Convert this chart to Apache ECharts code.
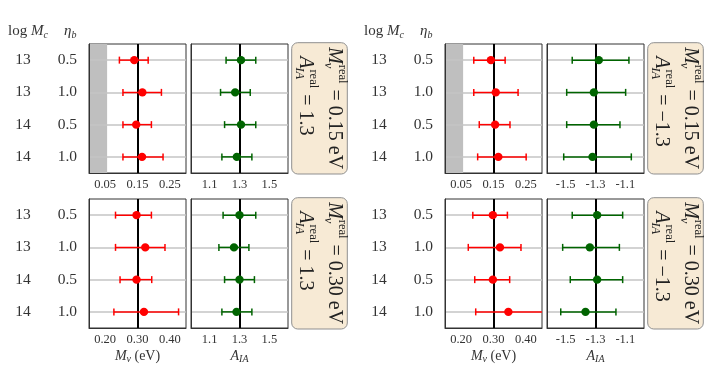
<!DOCTYPE html>
<html><head><meta charset="utf-8">
<script src="https://cdn.jsdelivr.net/npm/echarts@6/dist/echarts.min.js"></script>
<style>html,body{margin:0;padding:0;background:#fff}#c{width:716px;height:369px}</style>
</head><body><div id="c"></div>
<script>
// ---------- data ----------
const rowLogMc = ['13', '13', '14', '14'];
const rowEtab = ['0.5', '1.0', '0.5', '1.0'];
const rowIdx = [0, 1, 2, 3];

// top-left block: M_nu^real = 0.15, A_IA^real = 1.3
const mnuTL_mean = [0.140, 0.165, 0.146, 0.164];
const mnuTL_lo   = [0.094, 0.105, 0.105, 0.105];
const mnuTL_hi   = [0.183, 0.224, 0.193, 0.229];
const aiaTL_mean = [1.310, 1.271, 1.310, 1.282];
const aiaTL_lo   = [1.210, 1.173, 1.200, 1.182];
const aiaTL_hi   = [1.409, 1.372, 1.409, 1.383];

// bottom-left block: M_nu^real = 0.30, A_IA^real = 1.3
const mnuBL_mean = [0.297, 0.324, 0.297, 0.320];
const mnuBL_lo   = [0.232, 0.232, 0.246, 0.227];
const mnuBL_hi   = [0.343, 0.385, 0.344, 0.427];
const aiaBL_mean = [1.300, 1.263, 1.300, 1.280];
const aiaBL_lo   = [1.190, 1.162, 1.200, 1.182];
const aiaBL_hi   = [1.409, 1.363, 1.400, 1.383];

// top-right block: M_nu^real = 0.15, A_IA^real = -1.3
const mnuTR_mean = [0.142, 0.157, 0.155, 0.165];
const mnuTR_lo   = [0.089, 0.089, 0.106, 0.101];
const mnuTR_hi   = [0.186, 0.226, 0.201, 0.251];
const aiaTR_mean = [-1.278, -1.311, -1.311, -1.320];
const aiaTR_lo   = [-1.456, -1.493, -1.493, -1.513];
const aiaTR_hi   = [-1.076, -1.098, -1.136, -1.060];

// bottom-right block: M_nu^real = 0.30, A_IA^real = -1.3
const mnuBR_mean = [0.298, 0.320, 0.298, 0.346];
const mnuBR_lo   = [0.236, 0.222, 0.242, 0.245];
const mnuBR_hi   = [0.343, 0.385, 0.350, 0.460];
const aiaBR_mean = [-1.289, -1.338, -1.289, -1.367];
const aiaBR_lo   = [-1.456, -1.520, -1.469, -1.533];
const aiaBR_hi   = [-1.118, -1.140, -1.118, -1.163];

// axes
const massRangeLow = [0, 0.3];
const massRangeHigh = [0.15, 0.45];
const aiaRangePos = [0.975, 1.625];
const aiaRangeNeg = [-1.625, -0.975];
const massTicksLow = [0.05, 0.15, 0.25];
const massLabelsLow = ['0.05', '0.15', '0.25'];
const massTicksHigh = [0.2, 0.3, 0.4];
const massLabelsHigh = ['0.20', '0.30', '0.40'];
const aiaTicksPos = [1.1, 1.3, 1.5];
const aiaLabelsPos = ['1.1', '1.3', '1.5'];
const aiaTicksNeg = [-1.5, -1.3, -1.1];
const aiaLabelsNeg = ['-1.5', '-1.3', '-1.1'];
const priorShade = [0, 0.056];

const truthMnu = [0.15, 0.30];
const truthAia = [1.3, -1.3];
const boxMnuText = ['0.15', '0.30'];
const boxAiaText = ['1.3', '\u22121.3'];

// ---------- layout ----------
const FONT = "'Liberation Serif', 'DejaVu Serif', serif";
const TXT = '#333';
const RED = '#ff0000', GREEN = '#006400';
const colX = [[89, 191], [445, 547]];
const rowY = [44, 199];
const PW = 97, PH = 129;

const panels = [];
function addBlock(bx, by, mMean, mLo, mHi, aMean, aLo, aHi, mRange, mTicks, mLabels, aRange, aTicks, aLabels, tM, tA, shade, bottom) {
  panels.push({left: colX[bx][0], top: rowY[by], range: mRange, ticks: mTicks, labels: mLabels,
    mean: mMean, lo: mLo, hi: mHi, color: RED, truth: tM, shade: shade, rowLabels: true,
    name: bottom ? '{i|M}{s|\u03bd}{n| (eV)}' : null});
  panels.push({left: colX[bx][1], top: rowY[by], range: aRange, ticks: aTicks, labels: aLabels,
    mean: aMean, lo: aLo, hi: aHi, color: GREEN, truth: tA, shade: false, rowLabels: false,
    name: bottom ? '{i|A}{s|IA}' : null});
}
addBlock(0, 0, mnuTL_mean, mnuTL_lo, mnuTL_hi, aiaTL_mean, aiaTL_lo, aiaTL_hi, massRangeLow, massTicksLow, massLabelsLow, aiaRangePos, aiaTicksPos, aiaLabelsPos, truthMnu[0], truthAia[0], true, false);
addBlock(0, 1, mnuBL_mean, mnuBL_lo, mnuBL_hi, aiaBL_mean, aiaBL_lo, aiaBL_hi, massRangeHigh, massTicksHigh, massLabelsHigh, aiaRangePos, aiaTicksPos, aiaLabelsPos, truthMnu[1], truthAia[0], false, true);
addBlock(1, 0, mnuTR_mean, mnuTR_lo, mnuTR_hi, aiaTR_mean, aiaTR_lo, aiaTR_hi, massRangeLow, massTicksLow, massLabelsLow, aiaRangeNeg, aiaTicksNeg, aiaLabelsNeg, truthMnu[0], truthAia[1], true, false);
addBlock(1, 1, mnuBR_mean, mnuBR_lo, mnuBR_hi, aiaBR_mean, aiaBR_lo, aiaBR_hi, massRangeHigh, massTicksHigh, massLabelsHigh, aiaRangeNeg, aiaTicksNeg, aiaLabelsNeg, truthMnu[1], truthAia[1], false, true);

function makeErr(color) {
  return function (params, api) {
    const y = api.value(1);
    const pM = api.coord([api.value(0), y]);
    const pL = api.coord([api.value(2), y]);
    const pH = api.coord([api.value(3), y]);
    const cap = 3.5, lw = 1.5;
    return {type: 'group', children: [
      {type: 'line', shape: {x1: pL[0], y1: pL[1], x2: pH[0], y2: pH[1]}, style: {stroke: color, lineWidth: lw}},
      {type: 'line', shape: {x1: pL[0], y1: pL[1] - cap, x2: pL[0], y2: pL[1] + cap}, style: {stroke: color, lineWidth: lw}},
      {type: 'line', shape: {x1: pH[0], y1: pH[1] - cap, x2: pH[0], y2: pH[1] + cap}, style: {stroke: color, lineWidth: lw}},
      {type: 'circle', shape: {cx: pM[0], cy: pM[1], r: 4.2}, style: {fill: color}}
    ]};
  };
}

const grids = [], xAxes = [], yAxes = [], series = [];
panels.forEach((p, i) => {
  grids.push({left: p.left, top: p.top, width: PW, height: PH, show: true, borderColor: TXT, borderWidth: 1, backgroundColor: 'transparent'});
  xAxes.push({
    gridIndex: i, type: 'value', min: p.range[0], max: p.range[1], z: 10,
    axisLine: {show: true, onZero: false, lineStyle: {color: TXT, width: 1}},
    axisTick: {show: false}, splitLine: {show: false},
    axisLabel: {customValues: p.ticks, fontFamily: FONT, fontSize: 12.5, color: TXT, margin: 5,
      formatter: v => { const k = p.ticks.findIndex(t => Math.abs(t - v) < 1e-9); return k >= 0 ? p.labels[k] : ''; }},
    name: p.name || '', nameLocation: 'middle', nameGap: 20,
    nameTextStyle: {fontFamily: FONT, fontSize: 14, color: TXT,
      rich: {i: {fontFamily: FONT, fontStyle: 'italic', fontSize: 14, color: TXT, lineHeight: 16},
             s: {fontFamily: FONT, fontStyle: 'italic', fontSize: 10, color: TXT, verticalAlign: 'bottom', lineHeight: 9},
             n: {fontFamily: FONT, fontSize: 14, color: TXT, lineHeight: 16}}}
  });
  yAxes.push({
    gridIndex: i, type: 'value', min: -0.5, max: 3.5, inverse: true, z: 10,
    axisLine: {show: true, lineStyle: {color: TXT, width: 1}},
    axisTick: {show: false}, splitLine: {show: false},
    axisLabel: p.rowLabels ? {
      customValues: rowIdx, margin: 12,
      formatter: v => '{a|' + rowLogMc[Math.round(v)] + '}{b|' + rowEtab[Math.round(v)] + '}',
      rich: {a: {fontFamily: FONT, fontSize: 15.5, color: TXT, width: 68, align: 'center'},
             b: {fontFamily: FONT, fontSize: 15.5, color: TXT, width: 20, align: 'right'}}
    } : {show: false}
  });
  series.push({
    type: 'custom', xAxisIndex: i, yAxisIndex: i, z: 1, silent: true, data: [],
    renderItem: () => ({type: 'group', children: []}),
    markArea: p.shade ? {silent: true, itemStyle: {color: '#bfbfbf'}, data: [[{xAxis: priorShade[0]}, {xAxis: priorShade[1]}]]} : undefined,
    markLine: {silent: true, symbol: ['none', 'none'], label: {show: false}, animation: false,
      data: rowIdx.map(r => ({yAxis: r, lineStyle: {color: '#c4c4c4', width: 1.5, type: 'solid'}}))
        .concat([{xAxis: p.truth, lineStyle: {color: '#000', width: 2, type: 'solid'}}])}
  });
  series.push({
    type: 'custom', xAxisIndex: i, yAxisIndex: i, z: 5, clip: true, silent: true,
    renderItem: makeErr(p.color),
    encode: {x: [0, 2, 3], y: 1},
    data: rowIdx.map(r => [p.mean[r], r, p.lo[r], p.hi[r]])
  });
});

// ---------- text graphics ----------
const ctx = document.createElement('canvas').getContext('2d');
function tw(t, font) { ctx.font = font; return ctx.measureText(t).width; }
const BIG = 20, SM = 12.5;
const fBigI = 'italic ' + BIG + 'px ' + FONT, fSm = SM + 'px ' + FONT, fSmI = 'italic ' + SM + 'px ' + FONT;

function txt(x, y, text, size, italic, align) {
  return {type: 'text', x: x, y: y, style: {text: text, fontFamily: FONT, fontSize: size, fontStyle: italic ? 'italic' : 'normal', fill: '#222', align: align || 'left', verticalAlign: 'middle'}};
}
function mathLine(x, y, base, sub, rest) {
  const wB = tw(base, fBigI);
  const wSup = tw('real', fSm), wSub = tw(sub, fSmI);
  return {type: 'group', x: x, y: y, rotation: -Math.PI / 2, children: [
    txt(0, 0, base, BIG, true),
    txt(wB + 1, -7.5, 'real', SM, false),
    txt(wB - 1, 6.5, sub, SM, true),
    txt(wB + Math.max(wSup, wSub) + 2, 0, rest, BIG, false)
  ]};
}
const graphics = [];
[[0, 0], [0, 1], [1, 0], [1, 1]].forEach(([bx, by]) => {
  const boxX = colX[bx][1] + PW + 3.7, boxY = rowY[by] - 1.3;
  graphics.push({type: 'rect', shape: {x: boxX, y: boxY, width: 55.6, height: 131.3, r: 6},
    style: {fill: '#f7ead5', stroke: '#8f8f8f', lineWidth: 1}});
  graphics.push(mathLine(boxX + 43, boxY + 4.5, 'M', '\u03bd', ' = ' + boxMnuText[by] + ' eV'));
  graphics.push(mathLine(boxX + 14, boxY + 13.5, 'A', 'IA', ' = ' + boxAiaText[bx]));
});
[0, 356].forEach(ox => {
  graphics.push({type: 'text', x: ox + 8, y: 31, style: {text: '{r|log }{i|M}{s|c}', verticalAlign: 'middle',
    rich: {r: {fontFamily: FONT, fontSize: 15, fill: TXT, lineHeight: 18},
           i: {fontFamily: FONT, fontSize: 15, fontStyle: 'italic', fill: TXT, lineHeight: 18},
           s: {fontFamily: FONT, fontSize: 10, fontStyle: 'italic', fill: TXT, verticalAlign: 'bottom', lineHeight: 9}}}});
  graphics.push({type: 'text', x: ox + 64, y: 31, style: {text: '{i|\u03b7}{s|b}', verticalAlign: 'middle',
    rich: {i: {fontFamily: FONT, fontSize: 15, fontStyle: 'italic', fill: TXT, lineHeight: 18},
           s: {fontFamily: FONT, fontSize: 10, fontStyle: 'italic', fill: TXT, verticalAlign: 'bottom', lineHeight: 9}}}});
});

const chart = echarts.init(document.getElementById('c'), null, {renderer: 'canvas'});
chart.setOption({
  animation: false, backgroundColor: '#fff',
  grid: grids, xAxis: xAxes, yAxis: yAxes, series: series, graphic: graphics
});
</script>
</body></html>
